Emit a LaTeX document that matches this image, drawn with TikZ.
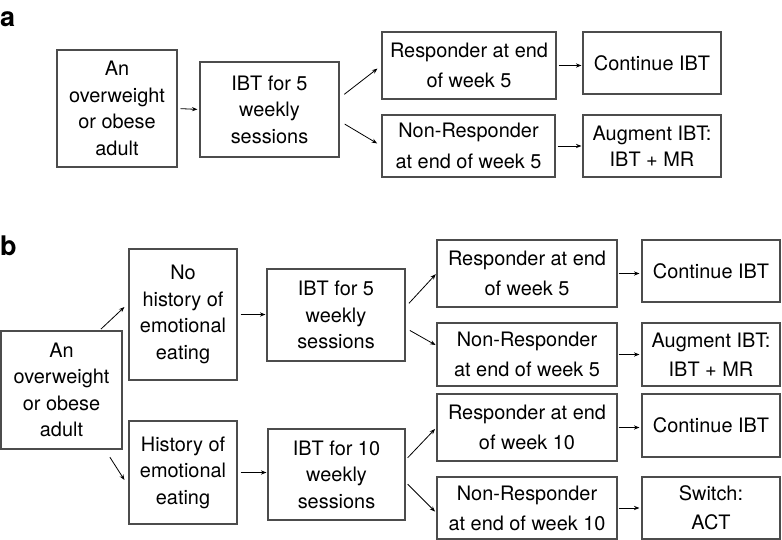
\documentclass[tikz,border=0pt]{standalone}
\usepackage{fontspec}
\setmainfont{TeX Gyre Heros}
\usetikzlibrary{arrows.meta}
\begin{document}
\begin{tikzpicture}[x=1pt,y=-1pt,
  box/.style={draw=black!70,line width=1.1pt,align=center,inner sep=2pt,
   font=\fontsize{19.9}{26.5}\selectfont},
  arr/.style={line width=0.8pt,-{Stealth[length=5.5pt,width=4.2pt]}},
  panel/.style={font=\fontsize{27}{27}\selectfont\bfseries,anchor=base west,inner sep=0pt}]
 \useasboundingbox (0,0) rectangle (782,540);
 \node[panel] (lbla) at (0,27) {a};
 \node[box,minimum width=120pt,minimum height=117pt] (aadult) at (117,108.5)
  {An\\overweight\\or obese\\adult};
 \node[box,minimum width=139pt,minimum height=95pt] (aibt) at (269.5,109.5)
  {IBT for 5\\weekly\\sessions};
 \node[box,minimum width=174pt,minimum height=67pt] (aresp) at (469,65.5)
  {Responder at end\\[4pt]of week 5};
 \node[box,minimum width=173pt,minimum height=62pt] (anonr) at (468.5,146)
  {Non-Responder\\[4pt]at end of week 5};
 \node[box,minimum width=138pt,minimum height=62pt] (acont) at (652,63)
  {Continue IBT};
 \node[box,minimum width=138pt,minimum height=62pt] (aaug) at (652,146)
  {Augment IBT:\\IBT + MR};
 \draw[arr,shorten <=3pt,shorten >=2pt] (aadult.east) -- (aibt.west);
 \draw[arr,shorten <=6pt,shorten >=5pt] ([yshift=11.5pt]aibt.east) -- (aresp.west);
 \draw[arr,shorten <=6pt,shorten >=5pt] ([yshift=-11.5pt]aibt.east) -- (anonr.west);
 \draw[arr,shorten <=2pt,shorten >=1pt] (aresp.east) -- (aresp.east -| acont.west);
 \draw[arr,shorten <=2pt,shorten >=1pt] (anonr.east) -- (anonr.east -| aaug.west);

 \node[panel] (lblb) at (0,255) {b};
 \node[box,minimum width=121pt,minimum height=118pt] (badult) at (61.5,390)
  {An\\overweight\\or obese\\adult};
 \node[box,minimum width=108pt,minimum height=131pt] (bno) at (183,314.5)
  {No\\history of\\emotional\\eating};
 \node[box,minimum width=108pt,minimum height=103pt] (bhist) at (183,472.5)
  {History of\\emotional\\eating};
 \node[box,minimum width=138pt,minimum height=92pt] (bibtfive) at (336,315)
  {IBT for 5\\weekly\\sessions};
 \node[box,minimum width=137pt,minimum height=91pt] (bibtten) at (336.5,474.5)
  {IBT for 10\\weekly\\sessions};
 \node[box,minimum width=180pt,minimum height=67pt] (brespfive) at (527,273.5)
  {Responder at end\\[3.5pt]of week 5};
 \node[box,minimum width=180pt,minimum height=63pt] (bnonrfive) at (527,354.5)
  {Non-Responder\\[3.5pt]at end of week 5};
 \node[box,minimum width=180pt,minimum height=67pt] (brespten) at (527,427.5)
  {Responder at end\\[3.5pt]of week 10};
 \node[box,minimum width=180pt,minimum height=62pt] (bnonrten) at (527,508)
  {Non-Responder\\[3.5pt]at end of week 10};
 \node[box,minimum width=138pt,minimum height=62pt] (bcontfive) at (711,271)
  {Continue IBT};
 \node[box,minimum width=138pt,minimum height=63pt] (baug) at (711,354.5)
  {Augment IBT:\\[2.5pt]IBT + MR};
 \node[box,minimum width=138pt,minimum height=63pt] (bcontten) at (711,425.5)
  {Continue IBT};
 \node[box,minimum width=138pt,minimum height=62pt] (bswitch) at (711,508)
  {Switch:\\[2.5pt]ACT};
 \draw[arr,shorten <=2pt] ([xshift=38pt]badult.north) -- ([xshift=-4pt,yshift=7.5pt]bno.west);
 \draw[arr,shorten <=9pt] ([xshift=43.5pt]badult.south) -- ([xshift=-4pt,yshift=-7.5pt]bhist.west);
 \draw[arr,shorten <=3pt,shorten >=1pt] (bno.east) -- (bno.east -| bibtfive.west);
 \draw[arr,shorten <=3pt,shorten >=1pt] (bhist.east) -- (bhist.east -| bibtten.west);
 \draw[arr,shorten <=5pt,shorten >=1pt] ([yshift=8pt]bibtfive.east) -- (brespfive.west);
 \draw[arr,shorten <=5pt,shorten >=1pt] ([yshift=-13pt]bibtfive.east) -- ([yshift=9pt]bnonrfive.west);
 \draw[arr,shorten <=3pt,shorten >=2pt] ([yshift=14.5pt]bibtten.east) -- (brespten.west);
 \draw[arr,shorten <=3pt,shorten >=2pt] ([yshift=-7.5pt]bibtten.east) -- ([yshift=-5pt]bnonrten.west);
 \draw[arr,shorten <=1pt,shorten >=2pt] (brespfive.east) -- (brespfive.east -| bcontfive.west);
 \draw[arr,shorten <=1pt,shorten >=2pt] (bnonrfive.east) -- (bnonrfive.east -| baug.west);
 \draw[arr,shorten <=1pt,shorten >=2pt] (brespten.east) -- (brespten.east -| bcontten.west);
 \draw[arr,shorten <=1pt,shorten >=2pt] (bnonrten.east) -- (bnonrten.east -| bswitch.west);
\end{tikzpicture}
\end{document}
